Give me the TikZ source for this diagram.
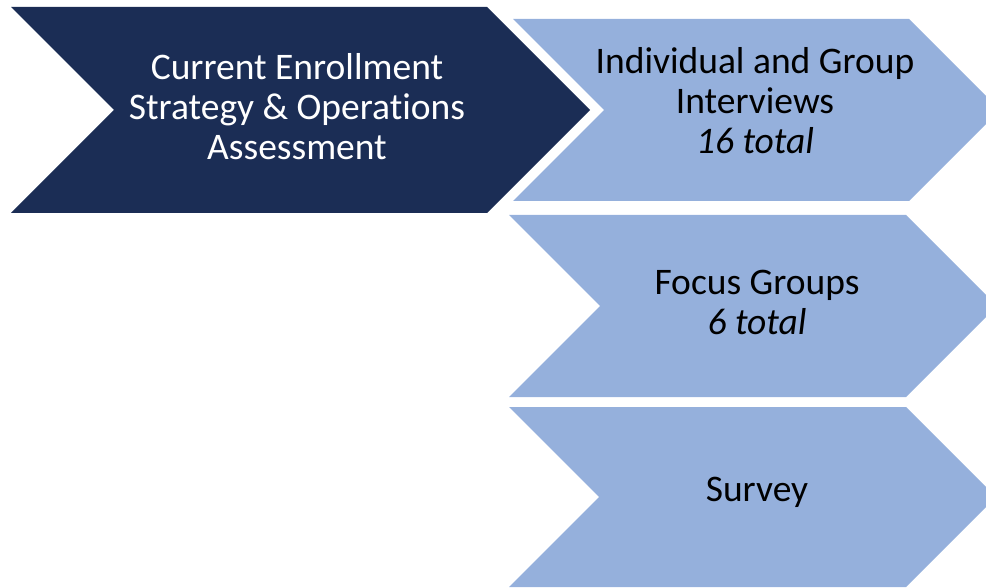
\documentclass[tikz,border=0pt]{standalone}
\usepackage{fontspec}
\setmainfont[Ligatures=NoCommon]{Carlito}
\usetikzlibrary{positioning}
\definecolor{navy}{HTML}{1B2D55}
\definecolor{paleblue}{HTML}{95B0DC}
\tikzset{
    darkchev/.style={fill=navy},
    lightchev/.style={fill=paleblue},
    chevtext/.style={align=center, inner sep=0pt, font=\fontsize{37.5}{40}\selectfont}
}
\begin{document}
\begin{tikzpicture}[x=1pt, y=-1pt]
                        \path[use as bounding box, clip] (0, 0) rectangle (986, 588);
                        \fill[darkchev] (11, 7) -- (487, 7) -- (590, 110) -- (487, 213) -- (11, 213) -- (114, 110) -- cycle;
                        \fill[lightchev] (513, 19) -- (909, 19) -- (1000, 110) -- (909, 201) -- (513, 201) -- (604, 110) -- cycle;
                        \fill[lightchev] (509, 215) -- (906, 215) -- (997, 306) -- (906, 397) -- (509, 397) -- (600, 306) -- cycle;
                        \fill[lightchev] (509, 407) -- (906, 407) -- (996, 497) -- (906, 587) -- (509, 587) -- (599, 497) -- cycle;
                        \node[chevtext, text=white] (assess) at (297, 107) {Current Enrollment\\Strategy \& Operations\\Assessment};
                        \node[chevtext] (interv) at (755, 101) {Individual and Group\\Interviews\\\textit{16 total}};
                        \node[chevtext] (focus) at (757, 302) {Focus Groups\\\textit{6 total}};
                        \node[chevtext] (survey) at (757, 492) {Survey};
                    \end{tikzpicture}
\end{document}
